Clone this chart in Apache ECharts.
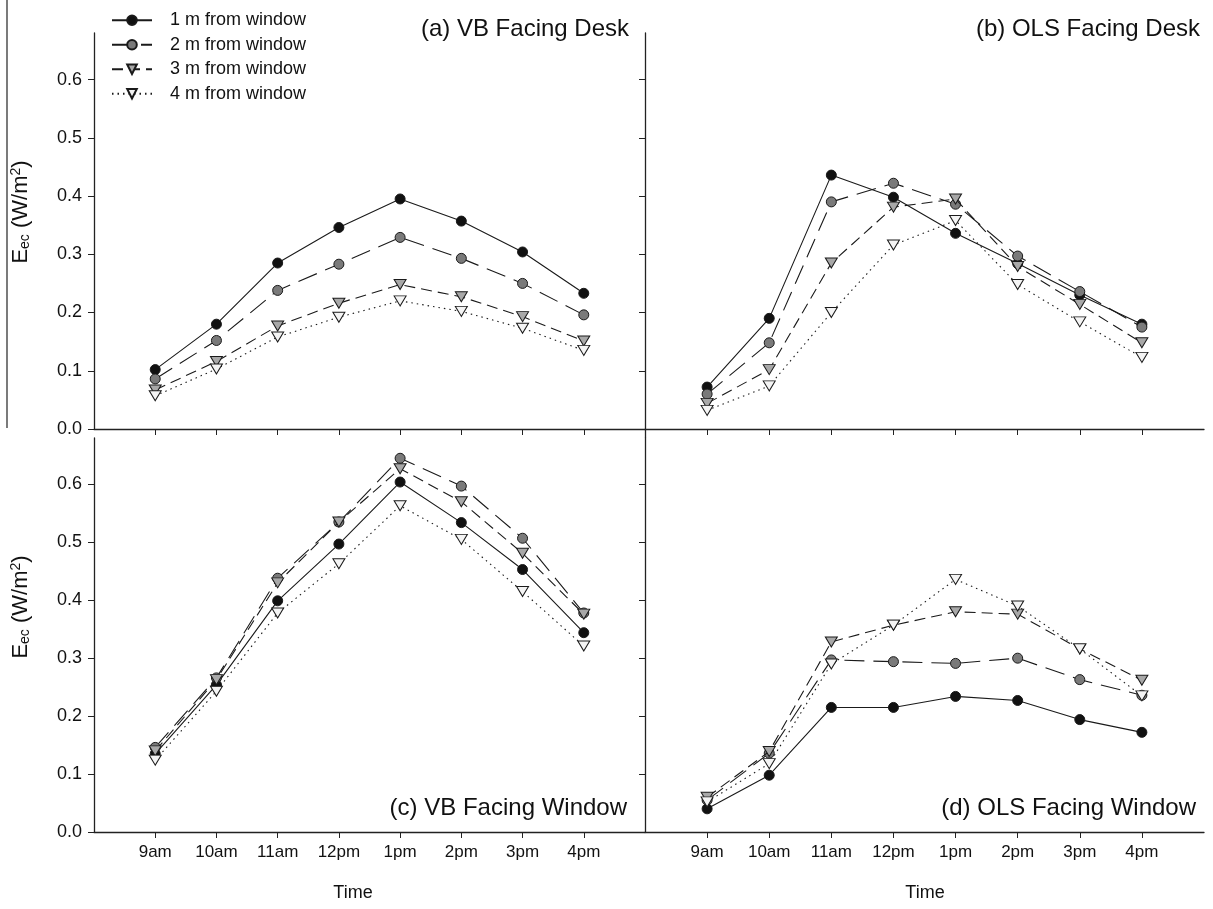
<!DOCTYPE html>
<html>
<head>
    <meta charset="utf-8">
    <script src="https://cdn.jsdelivr.net/npm/echarts@6/dist/echarts.min.js"></script>
    <title>Eec by time</title>
    <style>
        html, body { margin: 0; padding: 0; background: #fff; }
        #main { width: 1213px; height: 909px; }
    </style>
</head>
<body>
<div id="main"></div>
<script>
    // tick labels
    const hours = ['9am', '10am', '11am', '12pm', '1pm', '2pm', '3pm', '4pm'];
    const yTicks = [0.0, 0.1, 0.2, 0.3, 0.4, 0.5, 0.6];
    const seriesNames = ['1 m from window', '2 m from window', '3 m from window', '4 m from window'];

    // (a) VB facing desk
    const vbDesk1m = [0.102, 0.180, 0.285, 0.346, 0.395, 0.357, 0.304, 0.233];
    const vbDesk2m = [0.086, 0.152, 0.238, 0.283, 0.329, 0.293, 0.250, 0.196];
    const vbDesk3m = [0.067, 0.116, 0.177, 0.216, 0.248, 0.227, 0.193, 0.151];
    const vbDesk4m = [0.057, 0.103, 0.158, 0.192, 0.220, 0.202, 0.173, 0.135];

    // (b) OLS facing desk
    const olsDesk1m = [0.072, 0.190, 0.436, 0.398, 0.336, 0.284, 0.230, 0.180];
    const olsDesk2m = [0.060, 0.148, 0.390, 0.422, 0.386, 0.297, 0.236, 0.175];
    const olsDesk3m = [0.044, 0.102, 0.285, 0.381, 0.395, 0.279, 0.214, 0.148];
    const olsDesk4m = [0.032, 0.074, 0.200, 0.316, 0.358, 0.248, 0.184, 0.123];

    // (c) VB facing window
    const vbWin1m = [0.135, 0.254, 0.399, 0.497, 0.604, 0.534, 0.453, 0.344];
    const vbWin2m = [0.146, 0.266, 0.438, 0.535, 0.645, 0.597, 0.507, 0.378];
    const vbWin3m = [0.140, 0.263, 0.430, 0.535, 0.627, 0.570, 0.481, 0.376];
    const vbWin4m = [0.124, 0.243, 0.378, 0.463, 0.563, 0.505, 0.415, 0.321];

    // (d) OLS facing window
    const olsWin1m = [0.040, 0.098, 0.215, 0.215, 0.234, 0.227, 0.194, 0.172];
    const olsWin2m = [0.055, 0.136, 0.297, 0.294, 0.291, 0.300, 0.263, 0.236];
    const olsWin3m = [0.060, 0.139, 0.328, 0.357, 0.380, 0.376, 0.316, 0.262];
    const olsWin4m = [0.052, 0.118, 0.290, 0.357, 0.436, 0.390, 0.316, 0.235];

    const panels = [
        [vbDesk1m, vbDesk2m, vbDesk3m, vbDesk4m],
        [olsDesk1m, olsDesk2m, olsDesk3m, olsDesk4m],
        [vbWin1m, vbWin2m, vbWin3m, vbWin4m],
        [olsWin1m, olsWin2m, olsWin3m, olsWin4m]
    ];

    const FONT = "'Liberation Sans', Arial, sans-serif";
    const AXIS = '#222';

    // look of each distance series
    const looks = [
        { symbol: 'circle', size: 10, rotate: 0, fill: '#111', line: 'solid' },
        { symbol: 'circle', size: 10, rotate: 0, fill: '#7a7a7a', line: [20, 9] },
        { symbol: 'triangle', size: [12, 10], rotate: 180, fill: '#a8a8a8', line: [11, 6] },
        { symbol: 'triangle', size: [12, 10], rotate: 180, fill: '#f4f4f4', line: [1.5, 4] }
    ];

    const grids = [
        { left: 94, top: 33, width: 551, height: 396 },
        { left: 645, top: 33, width: 559, height: 396 },
        { left: 94, top: 438, width: 551, height: 394 },
        { left: 645, top: 438, width: 559, height: 394 }
    ];

    const xAxes = grids.map((g, i) => ({
        type: 'value', gridIndex: i, min: -1, max: 8,
        axisLine: { onZero: false, lineStyle: { color: AXIS, width: 1.3 } },
        axisTick: { length: 6, lineStyle: { color: AXIS }, customValues: hours.map((h, k) => k) },
        axisLabel: {
            show: i >= 2, customValues: hours.map((h, k) => k),
            formatter: v => hours[v], color: '#111', fontSize: 17, fontFamily: FONT, margin: 12
        },
        splitLine: { show: false }
    }));

    const yAxes = grids.map((g, i) => ({
        type: 'value', gridIndex: i, min: 0, max: 0.68,
        axisLine: { show: true, onZero: false, lineStyle: { color: AXIS, width: 1.3 } },
        axisTick: { show: true, length: 6, lineStyle: { color: AXIS }, customValues: yTicks },
        axisLabel: {
            show: i % 2 === 0, customValues: yTicks,
            formatter: v => v.toFixed(1), color: '#111', fontSize: 18, fontFamily: FONT, margin: 12
        },
        splitLine: { show: false }
    }));

    const series = [];
    panels.forEach((arrs, p) => {
        arrs.forEach((vals, s) => {
            const lk = looks[s];
            series.push({
                name: seriesNames[s],
                type: 'line',
                xAxisIndex: p, yAxisIndex: p,
                data: vals.map((v, k) => [k, v]),
                symbol: lk.symbol, symbolSize: lk.size, symbolRotate: lk.rotate,
                showAllSymbol: true,
                lineStyle: { color: '#1a1a1a', width: 1.1, type: lk.line },
                itemStyle: { color: lk.fill, borderColor: '#1a1a1a', borderWidth: 1 },
                z: 2 + s,
                animation: false
            });
        });
    });

    const titleText = (text, right, top) => ({
        text: text, right: right, top: top,
        textStyle: { fontSize: 24, fontWeight: 'normal', color: '#111', fontFamily: FONT }
    });

    const yName = (y) => ({
        type: 'text', x: 21, y: y, rotation: Math.PI / 2,
        style: {
            text: '{b|E}{s|ec}{b| (W/m}{p|2}{b|)}',
            align: 'center', verticalAlign: 'middle', fill: '#111',
            rich: {
                b: { fontSize: 22, fontFamily: FONT, lineHeight: 30, verticalAlign: 'middle', fill: '#111' },
                s: { fontSize: 14, fontFamily: FONT, lineHeight: 30, verticalAlign: 'bottom', padding: [0, 0, 4, 0], fill: '#111' },
                p: { fontSize: 14, fontFamily: FONT, lineHeight: 30, verticalAlign: 'top', padding: [3, 0, 0, 0], fill: '#111' }
            }
        }
    });

    const timeLabel = (x) => ({
        type: 'text', x: x, y: 893,
        style: { text: 'Time', align: 'center', verticalAlign: 'middle', fill: '#111', fontSize: 18, fontFamily: FONT }
    });

    const myChart = echarts.init(document.getElementById('main'), null, { renderer: 'canvas' });
    myChart.setOption({
        backgroundColor: '#ffffff',
        animation: false,
        title: [
            titleText('(a) VB Facing Desk', 579, 12),
            titleText('(b) OLS Facing Desk', 8, 12),
            titleText('(c) VB Facing Window', 581, 791),
            titleText('(d) OLS Facing Window', 12, 791)
        ],
        legend: {
            data: seriesNames,
            orient: 'vertical',
            left: 106, top: 5,
            itemWidth: 40, itemHeight: 12, itemGap: 4,
            textStyle: { fontSize: 18, fontFamily: FONT, color: '#111', lineHeight: 20.5, padding: [0, 0, 0, 13] }
        },
        grid: grids,
        xAxis: xAxes,
        yAxis: yAxes,
        series: series,
        graphic: [
            yName(212),
            yName(607),
            timeLabel(353),
            timeLabel(925),
            { type: 'line', shape: { x1: 7, y1: 0, x2: 7, y2: 428 }, style: { stroke: '#333', lineWidth: 1.3 } },
            { type: 'line', shape: { x1: 645.5, y1: 429, x2: 645.5, y2: 438 }, style: { stroke: AXIS, lineWidth: 1.3 } }
        ]
    });
</script>
</body>
</html>
